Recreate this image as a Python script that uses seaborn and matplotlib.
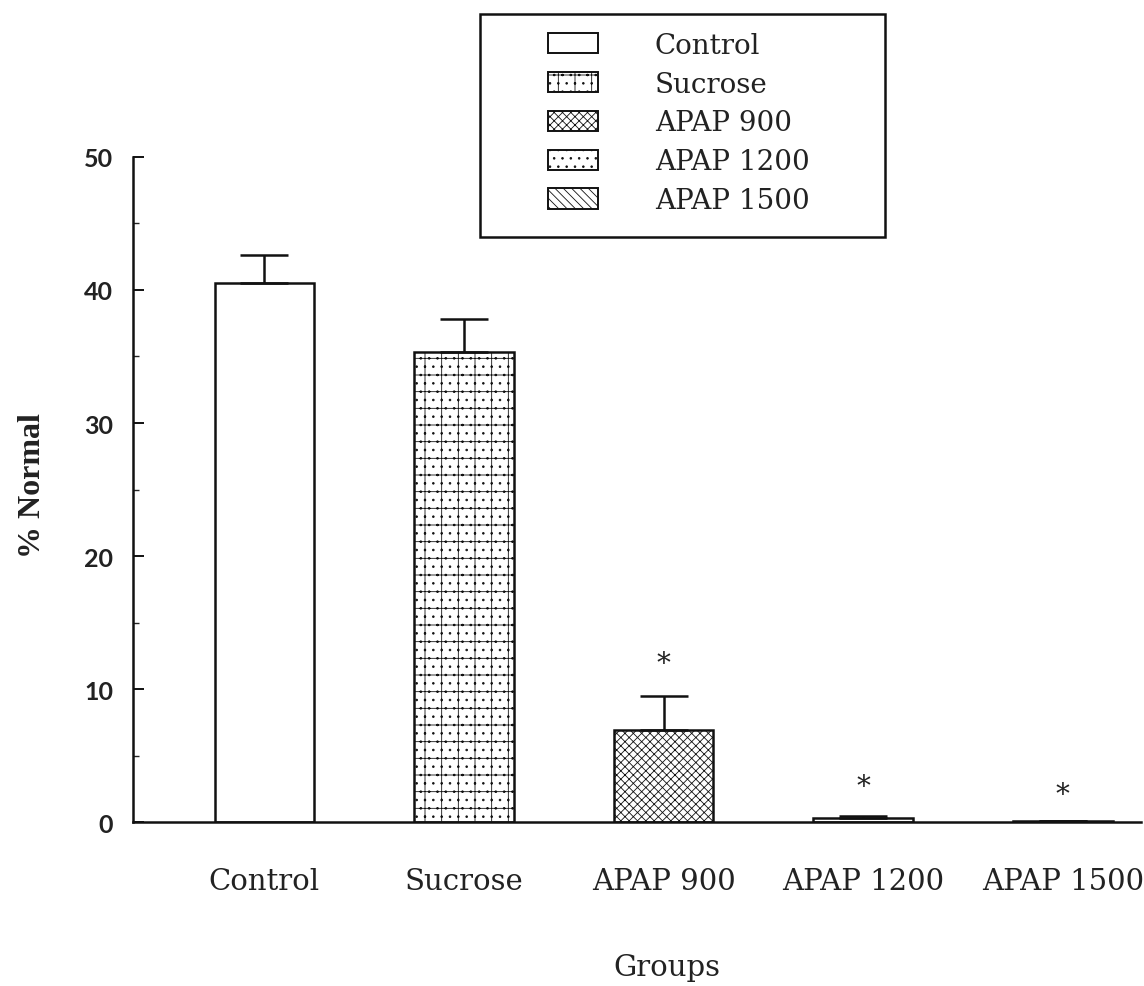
import matplotlib
matplotlib.use("Agg")
import matplotlib.pyplot as plt
import matplotlib.patches as mpatches
import seaborn as sns
import pandas as pd

groups = ["Control", "Sucrose", "APAP 900", "APAP 1200", "APAP 1500"]
values = [40.5, 35.3, 6.9, 0.3, 0.1]
errors = [2.1, 2.5, 2.6, 0.15, 0.0]
star_y = [None, None, 11.9, 2.7, 2.1]
hatches = ["", "+..", "xxxx", "..", "\\\\\\\\"]

sns.set_theme(style="white")
plt.rcParams["font.family"] = ["DejaVu Serif", "DejaVu Sans"]
plt.rcParams["hatch.linewidth"] = 0.6

df = pd.DataFrame({"group": groups, "value": values})

fig = plt.figure(figsize=(11.44, 9.87), dpi=100)
ax = fig.add_axes([0.116, 0.166, 0.881, 0.674])

sns.barplot(data=df, x="group", y="value", hue="group", order=groups,
            hue_order=groups, palette=["white"] * 5, edgecolor="#111111",
            linewidth=1.8, width=0.5, dodge=False, legend=False, ax=ax)

for cont, h in zip(ax.containers, hatches):
    for p in cont:
        p.set_hatch(h)

ax.errorbar(range(len(groups)), values, yerr=[[0] * 5, errors], fmt="none",
            ecolor="#111111", elinewidth=1.8, capsize=17, capthick=1.8)

for i, s in enumerate(star_y):
    if s is not None:
        ax.text(i, s, "*", ha="center", va="center", fontsize=20, color="#222222")

ax.set_ylim(0, 50)
ax.set_xlim(-0.66, 4.39)
ax.set_yticks([0, 10, 20, 30, 40, 50])
ax.set_yticks([5, 15, 25, 35, 45], minor=True)
ax.tick_params(axis="y", which="major", direction="in", length=8, width=1.4,
               pad=14, left=True, colors="#111111")
ax.tick_params(axis="y", which="minor", direction="in", length=4, width=1.0, left=True)
for lab in ax.get_yticklabels():
    lab.set_fontfamily("Lato")
    lab.set_fontweight("bold")
    lab.set_fontsize(18)
    lab.set_color("#222222")
ax.tick_params(axis="x", length=0, labelsize=21, pad=32, labelcolor="#222222")
for s in ["top", "right"]:
    ax.spines[s].set_visible(False)
for s in ["left", "bottom"]:
    ax.spines[s].set_color("#111111")
    ax.spines[s].set_linewidth(1.8)

ax.set_xlabel("Groups", fontsize=21, color="#222222")
ax.xaxis.set_label_coords(0.53, -0.218)
ax.xaxis.label.set_va("center")
ax.set_ylabel("% Normal", fontsize=23, color="#222222",
              family="Liberation Serif", fontweight="bold")
ax.yaxis.set_label_coords(-0.099, 0.508)
ax.yaxis.label.set_va("center")

# legend box
fig.patches.append(mpatches.Rectangle((0.4196, 0.7588), 0.354, 0.226,
                                      transform=fig.transFigure, fill=False,
                                      edgecolor="#111111", linewidth=1.8))
handles = [mpatches.Patch(facecolor="white", edgecolor="#111111", hatch=h,
                          linewidth=1.4, label=g) for g, h in zip(groups, hatches)]
leg = fig.legend(handles=handles, loc="upper left",
                 bbox_to_anchor=(0.479, 0.967), frameon=False, fontsize=20,
                 handlelength=1.8, handleheight=0.75, handletextpad=2.05,
                 borderpad=0, labelspacing=0.43, borderaxespad=0)
for t in leg.get_texts():
    t.set_color("#222222")

fig.savefig("out.png", dpi=100, facecolor="white")
